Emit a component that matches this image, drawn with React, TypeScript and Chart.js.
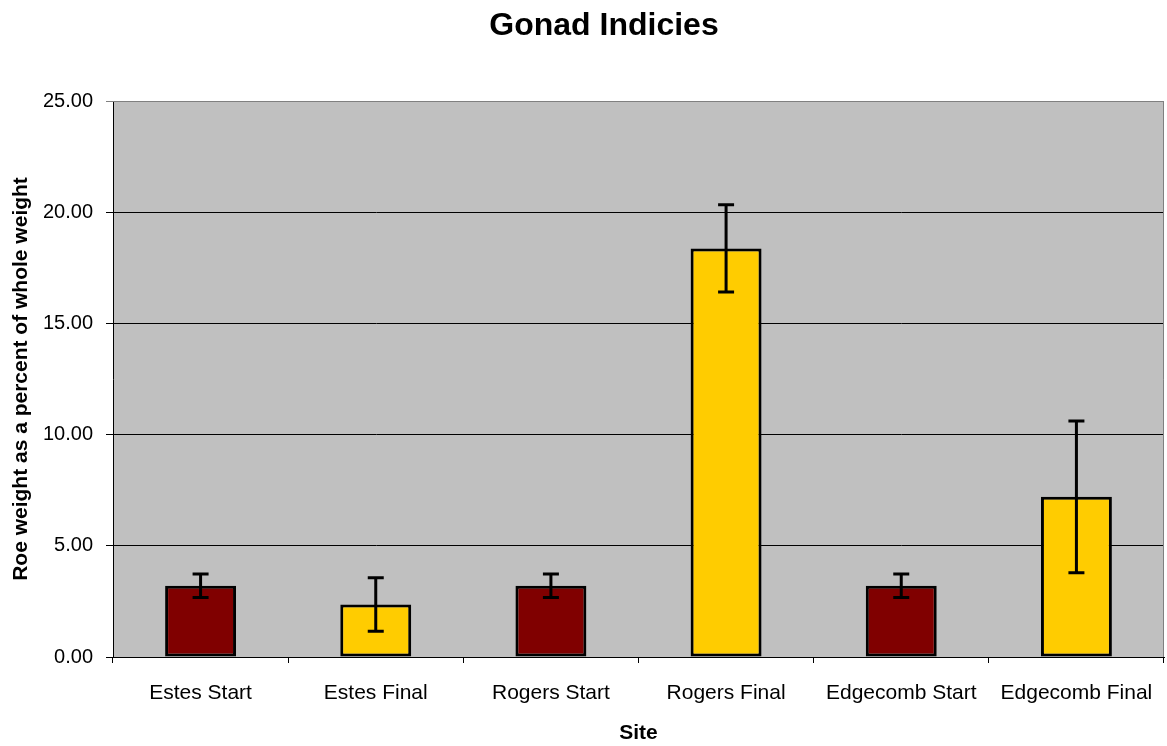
import React, { useEffect, useRef } from "react";
import { Chart, registerables } from "chart.js";

Chart.register(...registerables);

const categories = ["Estes Start", "Estes Final", "Rogers Start", "Rogers Final", "Edgecomb Start", "Edgecomb Final"];
const values = [3.2, 2.36, 3.2, 18.37, 3.2, 7.2];
const errors = [0.53, 1.2, 0.53, 1.96, 0.53, 3.41];
const barColors = ["#800000", "#FFCC00", "#800000", "#FFCC00", "#800000", "#FFCC00"];
const chartTitle = "Gonad Indicies";
const xTitle = "Site";
const yTitle = "Roe weight as a percent of whole weight";

const FONT = "'Liberation Sans', Arial, sans-serif";

const plotBg = {
  id: "plotBg",
  beforeDraw(chart: any) {
    const { ctx, chartArea } = chart;
    ctx.save();
    ctx.fillStyle = "#C0C0C0";
    ctx.fillRect(chartArea.left, chartArea.top, chartArea.right - chartArea.left, chartArea.bottom - chartArea.top);
    ctx.restore();
  },
  afterDraw(chart: any) {
    const { ctx, chartArea } = chart;
    ctx.save();
    ctx.strokeStyle = "#808080";
    ctx.lineWidth = 1;
    ctx.beginPath();
    ctx.moveTo(chartArea.left, chartArea.top + 0.5);
    ctx.lineTo(chartArea.right - 0.5, chartArea.top + 0.5);
    ctx.lineTo(chartArea.right - 0.5, chartArea.bottom);
    ctx.stroke();
    ctx.fillStyle = "#000";
    ctx.font = `bold 32px ${FONT}`;
    ctx.textAlign = "center";
    ctx.textBaseline = "alphabetic";
    ctx.fillText(chartTitle, 604, 35);
    ctx.restore();
  },
};

const errorBars = {
  id: "errorBars",
  afterDatasetsDraw(chart: any) {
    const { ctx } = chart;
    const meta = chart.getDatasetMeta(0);
    const y = chart.scales.y;
    ctx.save();
    ctx.strokeStyle = "#000";
    ctx.lineWidth = 3;
    meta.data.forEach((bar: any, i: number) => {
      const x = bar.x;
      const top = y.getPixelForValue(values[i] + errors[i]);
      const bot = y.getPixelForValue(values[i] - errors[i]);
      ctx.beginPath();
      ctx.moveTo(x, top);
      ctx.lineTo(x, bot);
      ctx.moveTo(x - 8, top);
      ctx.lineTo(x + 8, top);
      ctx.moveTo(x - 8, bot);
      ctx.lineTo(x + 8, bot);
      ctx.stroke();
    });
    ctx.restore();
  },
};

export default function App() {
  const ref = useRef<HTMLCanvasElement>(null);
  useEffect(() => {
    if (!ref.current) return;
    const chart = new Chart(ref.current, {
      type: "bar",
      data: {
        labels: categories,
        datasets: [
          {
            data: values,
            backgroundColor: barColors,
            borderColor: "#000",
            borderWidth: 3,
            borderSkipped: false,
            barPercentage: 0.405,
            categoryPercentage: 1,
          },
        ],
      },
      options: {
        responsive: false,
        animation: false,
        layout: { padding: { top: 101, right: 3, left: 0, bottom: 0 } },
        plugins: { legend: { display: false }, title: { display: false }, tooltip: { enabled: false } },
        scales: {
          x: {
            afterFit(scale: any) {
              scale.height = 89;
              scale.paddingLeft = 0;
              scale.paddingRight = 0;
            },
            grid: { drawOnChartArea: false, drawTicks: true, tickLength: 6, color: "#000", lineWidth: 1 },
            border: { display: true, color: "#000", width: 1 },
            ticks: { color: "#000", font: { family: FONT, size: 21 }, padding: 18, maxRotation: 0, autoSkip: false },
            title: { display: true, text: xTitle, color: "#000", font: { family: FONT, size: 21, weight: "bold" }, padding: { top: 0, bottom: 0 } },
          },
          y: {
            min: 0,
            max: 25,
            afterFit(scale: any) {
              scale.width = 113;
            },
            grid: {
              color: (c: any) => (c.tick && c.tick.value === 25 ? "#808080" : "#000"),
              lineWidth: 1,
              drawTicks: true,
              tickLength: 7,
            },
            border: { display: true, color: "#000", width: 1 },
            ticks: {
              stepSize: 5,
              color: "#000",
              font: { family: FONT, size: 20 },
              padding: 13,
              callback: (v: any) => Number(v).toFixed(2),
            },
            title: { display: true, text: yTitle, color: "#000", font: { family: FONT, size: 21, weight: "bold" }, padding: { top: 9, bottom: 0 } },
          },
        },
      },
      plugins: [plotBg, errorBars],
    });
    return () => chart.destroy();
  }, []);
  return (
    <div style={{ position: "absolute", left: 0, top: 0, width: 1167, height: 746, background: "#fff" }}>
      <canvas ref={ref} width={1167} height={746} style={{ display: "block" }} />
    </div>
  );
}
